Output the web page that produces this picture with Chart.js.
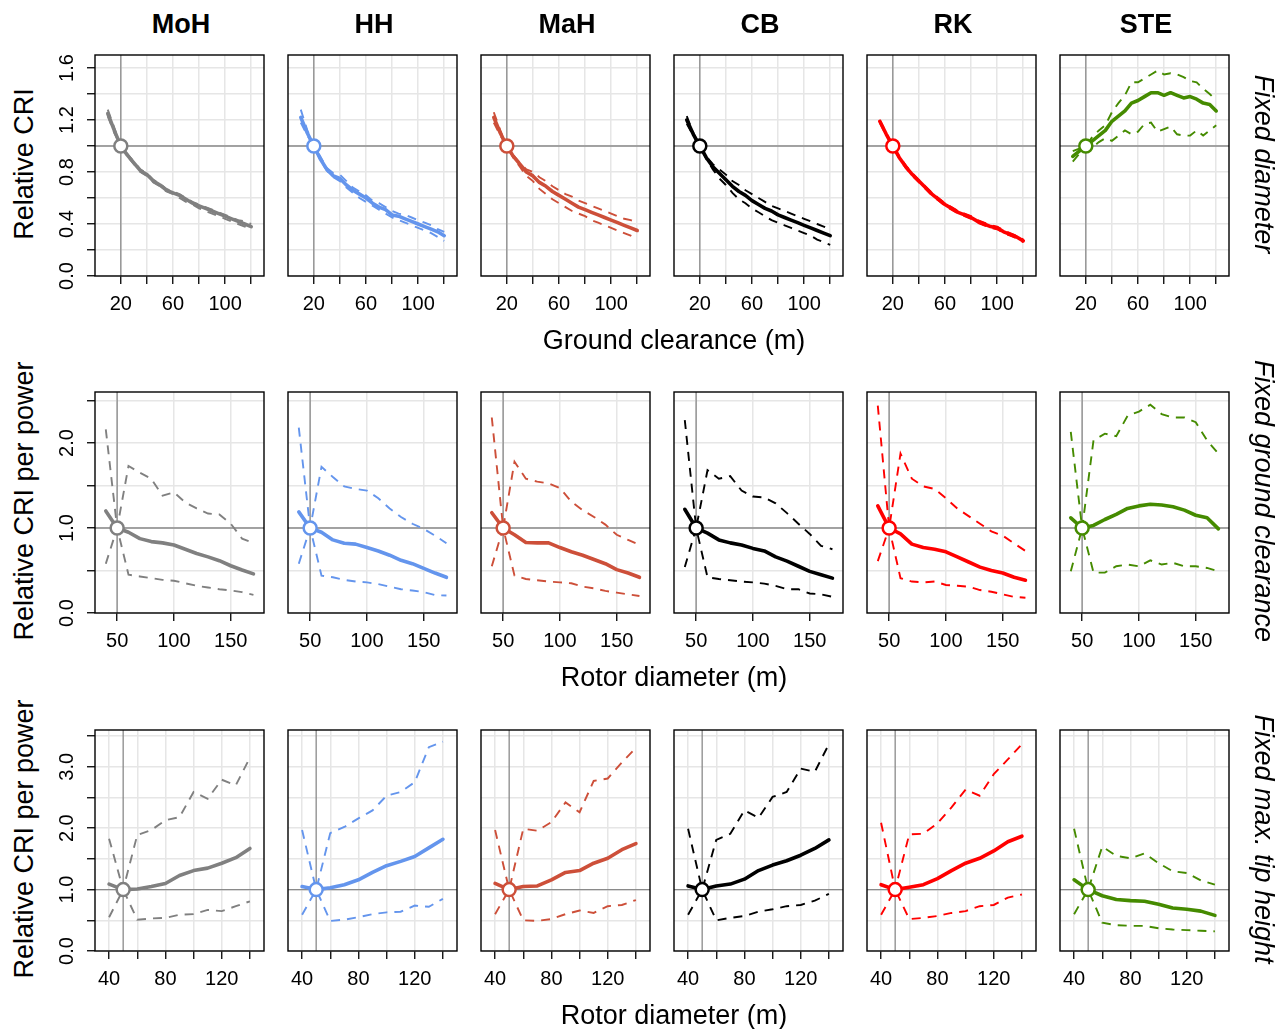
<!DOCTYPE html>
<html>
<head>
<meta charset="utf-8">
<script src="https://cdn.jsdelivr.net/npm/chart.js@4/dist/chart.umd.min.js"></script>
<style>
  body { margin: 0; background: #fff; width: 1284px; height: 1029px; position: relative; overflow: hidden;
         font-family: "Liberation Sans", Arial, sans-serif; }
  canvas { position: absolute; }
  .lbl { position: absolute; white-space: nowrap; color: #000; font-size: 27px; line-height: 1; }
</style>
</head>
<body>
<script>
// ---- categories / labels ----
const models = ['MoH', 'HH', 'MaH', 'CB', 'RK', 'STE'];
const colours = ['#808080', '#6495ed', '#cd4f39', '#000000', '#ff0000', '#458b00'];
const rowTitles = ['Fixed diameter', 'Fixed ground clearance', 'Fixed max. tip height'];
const yTitles = ['Relative CRI', 'Relative CRI per power', 'Relative CRI per power'];
const xTitles = ['Ground clearance (m)', 'Rotor diameter (m)', 'Rotor diameter (m)'];

// ---- x values ----
const clearance = [10, 15, 20, 25, 30, 35, 40, 45, 50, 55, 60, 65, 70, 75, 80, 85, 90, 95, 100, 105, 110, 115, 120];
const diamGround = [40, 50, 60, 70, 80, 90, 100, 110, 120, 130, 140, 150, 160, 170];
const diamTip = [40, 50, 60, 70, 80, 90, 100, 110, 120, 130, 140];

// ---- ticks ----
const xTicks1 = [20, 40, 60, 80, 100, 120], xLabels1 = [20, 60, 100];
const yTicks1 = [0, 0.2, 0.4, 0.6, 0.8, 1.0, 1.2, 1.4, 1.6], yLabels1 = [0, 0.4, 0.8, 1.2, 1.6];
const xTicks2 = [50, 100, 150], xLabels2 = [50, 100, 150];
const yTicks2 = [0, 0.5, 1.0, 1.5, 2.0, 2.5], yLabels2 = [0, 1, 2];
const xTicks3 = [40, 60, 80, 100, 120, 140], xLabels3 = [40, 80, 120];
const yTicks3 = [0, 0.5, 1.0, 1.5, 2.0, 2.5, 3.0, 3.5], yLabels3 = [0, 1, 2, 3];
const refX = [20, 50, 50];

// ---- row 1: fixed diameter (median, upper, lower) ----
const fdMoH   = [1.25,1.12,1.00,0.93,0.87,0.81,0.78,0.73,0.70,0.66,0.64,0.62,0.59,0.56,0.54,0.52,0.50,0.48,0.46,0.44,0.42,0.40,0.38];
const fdMoHUp = [1.28,1.14,1.00,0.94,0.88,0.82,0.79,0.74,0.71,0.67,0.65,0.63,0.60,0.57,0.55,0.53,0.51,0.49,0.47,0.45,0.43,0.42,0.40];
const fdMoHLo = [1.23,1.10,1.00,0.92,0.86,0.80,0.77,0.72,0.69,0.65,0.63,0.60,0.57,0.55,0.52,0.50,0.48,0.46,0.44,0.42,0.40,0.38,0.36];
const fdHH    = [1.22,1.10,1.00,0.90,0.82,0.77,0.75,0.70,0.66,0.63,0.60,0.56,0.53,0.51,0.47,0.46,0.44,0.42,0.40,0.38,0.36,0.34,0.31];
const fdHHUp  = [1.28,1.12,1.00,0.92,0.83,0.79,0.78,0.73,0.68,0.65,0.62,0.58,0.56,0.53,0.50,0.48,0.47,0.45,0.43,0.41,0.39,0.36,0.34];
const fdHHLo  = [1.18,1.08,1.00,0.89,0.81,0.76,0.73,0.68,0.64,0.60,0.57,0.54,0.51,0.48,0.45,0.43,0.41,0.39,0.37,0.35,0.33,0.30,0.27];
const fdMaH   = [1.22,1.10,1.00,0.92,0.86,0.80,0.77,0.72,0.69,0.65,0.62,0.59,0.56,0.53,0.51,0.49,0.47,0.45,0.43,0.41,0.39,0.37,0.35];
const fdMaHUp = [1.26,1.12,1.00,0.93,0.87,0.82,0.80,0.76,0.73,0.69,0.66,0.63,0.61,0.58,0.56,0.54,0.52,0.50,0.48,0.46,0.44,0.43,0.41];
const fdMaHLo = [1.18,1.08,1.00,0.91,0.84,0.77,0.73,0.67,0.63,0.59,0.56,0.53,0.50,0.48,0.46,0.43,0.41,0.39,0.37,0.35,0.33,0.31,0.28];
const fdCB    = [1.20,1.09,1.00,0.91,0.84,0.79,0.74,0.69,0.65,0.62,0.58,0.55,0.52,0.50,0.47,0.45,0.43,0.41,0.39,0.37,0.35,0.33,0.31];
const fdCBUp  = [1.23,1.10,1.00,0.92,0.86,0.82,0.78,0.73,0.70,0.66,0.63,0.60,0.57,0.54,0.52,0.50,0.48,0.46,0.44,0.42,0.40,0.38,0.36];
const fdCBLo  = [1.17,1.08,1.00,0.90,0.82,0.75,0.70,0.64,0.59,0.56,0.52,0.49,0.46,0.43,0.41,0.39,0.37,0.35,0.33,0.31,0.28,0.26,0.24];
const fdRK    = [1.19,1.09,1.00,0.91,0.84,0.78,0.73,0.68,0.63,0.59,0.55,0.52,0.49,0.47,0.45,0.42,0.40,0.38,0.37,0.34,0.32,0.30,0.27];
const fdRKUp  = [1.20,1.10,1.00,0.92,0.85,0.79,0.74,0.69,0.64,0.60,0.56,0.53,0.50,0.48,0.46,0.43,0.41,0.39,0.38,0.35,0.33,0.31,0.28];
const fdRKLo  = [1.18,1.08,1.00,0.90,0.83,0.77,0.72,0.67,0.62,0.58,0.54,0.51,0.48,0.46,0.44,0.41,0.39,0.37,0.36,0.33,0.31,0.29,0.26];
const fdSTE   = [0.92,0.96,1.00,1.04,1.08,1.12,1.19,1.23,1.27,1.33,1.35,1.38,1.41,1.41,1.39,1.41,1.39,1.37,1.38,1.36,1.33,1.32,1.27];
const fdSTEUp = [0.96,0.98,1.00,1.07,1.12,1.16,1.26,1.33,1.39,1.49,1.49,1.52,1.55,1.58,1.55,1.56,1.55,1.53,1.50,1.49,1.44,1.40,1.35];
const fdSTELo = [0.88,0.94,1.00,0.99,1.03,1.06,1.04,1.08,1.12,1.09,1.11,1.17,1.18,1.11,1.13,1.15,1.09,1.08,1.08,1.12,1.08,1.12,1.16];

// ---- row 2: fixed ground clearance ----
const fgMoH   = [1.20,1.00,0.95,0.875,0.84,0.825,0.80,0.75,0.70,0.66,0.615,0.556,0.506,0.46];
const fgMoHUp = [2.16,1.00,1.73,1.65,1.58,1.38,1.42,1.30,1.23,1.17,1.16,1.05,0.875,0.825];
const fgMoHLo = [0.58,1.00,0.45,0.43,0.41,0.39,0.38,0.35,0.32,0.30,0.28,0.265,0.245,0.214];
const fgHH    = [1.19,1.00,0.95,0.86,0.82,0.81,0.77,0.73,0.68,0.62,0.58,0.525,0.47,0.42];
const fgHHUp  = [2.18,1.00,1.72,1.60,1.49,1.46,1.44,1.35,1.23,1.13,1.05,0.99,0.91,0.82];
const fgHHLo  = [0.58,1.00,0.44,0.42,0.39,0.37,0.36,0.34,0.31,0.28,0.265,0.245,0.21,0.206];
const fgMaH   = [1.18,1.00,0.92,0.83,0.825,0.825,0.77,0.72,0.68,0.63,0.58,0.51,0.47,0.42];
const fgMaHUp = [2.30,1.00,1.78,1.58,1.545,1.525,1.47,1.31,1.21,1.13,1.04,0.92,0.86,0.80];
const fgMaHLo = [0.55,1.00,0.44,0.40,0.385,0.37,0.36,0.35,0.31,0.29,0.26,0.24,0.22,0.20];
const fgCB    = [1.22,1.00,0.94,0.86,0.825,0.80,0.76,0.73,0.66,0.61,0.55,0.49,0.45,0.41];
const fgCBUp  = [2.27,1.00,1.68,1.58,1.61,1.44,1.37,1.36,1.29,1.175,1.05,0.93,0.79,0.75];
const fgCBLo  = [0.54,1.00,0.42,0.40,0.385,0.37,0.36,0.345,0.32,0.28,0.28,0.23,0.22,0.19];
const fgRK    = [1.26,1.00,0.93,0.81,0.77,0.75,0.72,0.66,0.60,0.54,0.50,0.47,0.42,0.385];
const fgRKUp  = [2.44,1.00,1.875,1.58,1.49,1.46,1.35,1.23,1.14,1.05,0.96,0.91,0.82,0.73];
const fgRKLo  = [0.61,1.00,0.41,0.37,0.36,0.37,0.33,0.32,0.31,0.27,0.25,0.22,0.19,0.18];
const fgSTE   = [1.12,1.00,1.03,1.10,1.16,1.23,1.26,1.28,1.27,1.25,1.21,1.15,1.12,0.99];
const fgSTEUp = [2.13,1.00,2.03,2.11,2.08,2.32,2.37,2.45,2.34,2.30,2.30,2.245,2.03,1.875];
const fgSTELo = [0.49,1.00,0.475,0.475,0.55,0.57,0.55,0.62,0.57,0.59,0.55,0.55,0.53,0.49];

// ---- row 3: fixed max. tip height ----
const ftMoH   = [1.09,1.00,1.01,1.05,1.10,1.23,1.31,1.35,1.43,1.52,1.67];
const ftMoHUp = [1.83,1.00,1.89,1.97,2.13,2.18,2.59,2.48,2.79,2.70,3.15];
const ftMoHLo = [0.55,1.00,0.51,0.53,0.54,0.59,0.60,0.67,0.65,0.73,0.81];
const ftHH    = [1.05,1.00,1.03,1.08,1.16,1.28,1.39,1.46,1.54,1.68,1.82];
const ftHHUp  = [1.97,1.00,1.92,2.02,2.16,2.29,2.53,2.59,2.75,3.32,3.41];
const ftHHLo  = [0.59,1.00,0.49,0.51,0.55,0.60,0.63,0.64,0.74,0.72,0.85];
const ftMaH   = [1.10,1.00,1.05,1.06,1.16,1.28,1.31,1.43,1.51,1.65,1.75];
const ftMaHUp = [1.97,1.00,1.99,1.96,2.10,2.42,2.26,2.77,2.81,3.07,3.31];
const ftMaHLo = [0.60,1.00,0.50,0.49,0.52,0.60,0.66,0.62,0.73,0.75,0.83];
const ftCB    = [1.06,1.00,1.06,1.09,1.17,1.31,1.40,1.47,1.56,1.67,1.81];
const ftCBUp  = [1.99,1.00,1.81,1.91,2.29,2.17,2.51,2.59,2.97,2.92,3.37];
const ftCBLo  = [0.59,1.00,0.50,0.54,0.57,0.64,0.68,0.73,0.75,0.82,0.93];
const ftRK    = [1.08,1.00,1.04,1.08,1.18,1.31,1.43,1.51,1.63,1.78,1.87];
const ftRKUp  = [2.09,1.00,1.90,1.91,2.08,2.34,2.63,2.53,2.88,3.12,3.37];
const ftRKLo  = [0.59,1.00,0.52,0.54,0.57,0.62,0.65,0.73,0.75,0.87,0.92];
const ftSTE   = [1.16,1.00,0.90,0.84,0.82,0.81,0.76,0.70,0.68,0.65,0.58];
const ftSTEUp = [1.99,1.00,1.70,1.55,1.51,1.59,1.43,1.30,1.27,1.15,1.08];
const ftSTELo = [0.60,1.00,0.46,0.42,0.41,0.41,0.37,0.35,0.34,0.33,0.32];

// grouped per row: [median, upper, lower] for each model
const series = [
  [[fdMoH, fdMoHUp, fdMoHLo], [fdHH, fdHHUp, fdHHLo], [fdMaH, fdMaHUp, fdMaHLo],
   [fdCB, fdCBUp, fdCBLo], [fdRK, fdRKUp, fdRKLo], [fdSTE, fdSTEUp, fdSTELo]],
  [[fgMoH, fgMoHUp, fgMoHLo], [fgHH, fgHHUp, fgHHLo], [fgMaH, fgMaHUp, fgMaHLo],
   [fgCB, fgCBUp, fgCBLo], [fgRK, fgRKUp, fgRKLo], [fgSTE, fgSTEUp, fgSTELo]],
  [[ftMoH, ftMoHUp, ftMoHLo], [ftHH, ftHHUp, ftHHLo], [ftMaH, ftMaHUp, ftMaHLo],
   [ftCB, ftCBUp, ftCBLo], [ftRK, ftRKUp, ftRKLo], [ftSTE, ftSTEUp, ftSTELo]]
];
const xValues = [clearance, diamGround, diamTip];
const xTicks = [xTicks1, xTicks2, xTicks3], xLabels = [xLabels1, xLabels2, xLabels3];
const yTicks = [yTicks1, yTicks2, yTicks3], yLabels = [yLabels1, yLabels2, yLabels3];

// ---- layout (page pixels) ----
const boxLeft = [95, 288, 481, 674, 867, 1060];
const boxTop = [52, 389, 727];
const boxW = 172, boxH = 224;
const padL = 50, padT = 6, padR = 6, padB = 50;
const xRange = [[0.2, 129.8], [30.5, 179.3], [30, 150]];
const yRange = [[0, 1.7], [0, 2.6], [0, 3.6]];

const FONT = '"Liberation Sans", Arial, sans-serif';

// crosshair at the reference design, panel box, rotated y tick labels
const panelFrame = {
  id: 'panelFrame',
  beforeDatasetsDraw(chart, args, opts) {
    const { ctx, chartArea: a, scales: { x, y } } = chart;
    const px = x.getPixelForValue(opts.refX);
    const py = y.getPixelForValue(1);
    ctx.save();
    ctx.strokeStyle = '#8a8a8a';
    ctx.lineWidth = 1.3;
    ctx.beginPath();
    ctx.moveTo(px, a.top); ctx.lineTo(px, a.bottom);
    ctx.moveTo(a.left, py); ctx.lineTo(a.right, py);
    ctx.stroke();
    ctx.restore();
  },
  afterDraw(chart, args, opts) {
    const { ctx, chartArea: a, scales: { y } } = chart;
    ctx.save();
    ctx.strokeStyle = '#000';
    ctx.lineWidth = 1.4;
    ctx.strokeRect(a.left, a.top, a.right - a.left, a.bottom - a.top);
    if (opts.yLabels) {
      ctx.fillStyle = '#000';
      ctx.font = '20px ' + FONT;
      ctx.textAlign = 'center';
      ctx.textBaseline = 'alphabetic';
      opts.yLabels.forEach(v => {
        ctx.save();
        ctx.translate(a.left - 22, y.getPixelForValue(v));
        ctx.rotate(-Math.PI / 2);
        ctx.fillText(v.toFixed(1), 0, 0);
        ctx.restore();
      });
    }
    ctx.restore();
  }
};

function makePanel(r, c) {
  const cv = document.createElement('canvas');
  const w = padL + boxW + padR, h = padT + boxH + padB;
  cv.width = w; cv.height = h;
  cv.style.width = w + 'px'; cv.style.height = h + 'px';
  cv.style.left = (boxLeft[c] - padL) + 'px';
  cv.style.top = (boxTop[r] - padT) + 'px';
  document.body.appendChild(cv);

  const col = colours[c];
  const xs = xValues[r];
  const [mid, up, lo] = series[r][c];
  const pts = arr => xs.map((x, i) => ({ x: x, y: arr[i] }));
  const dashed = arr => ({
    data: pts(arr), borderColor: col, borderWidth: 1.9, borderDash: [9, 7],
    pointRadius: 0, borderCapStyle: 'butt', tension: 0
  });

  new Chart(cv, {
    type: 'line',
    data: {
      datasets: [
        { data: [{ x: refX[r], y: 1 }], showLine: false, pointRadius: 6.5, pointBorderWidth: 2.5,
          pointBackgroundColor: '#fff', pointBorderColor: col },
        { data: pts(mid), borderColor: col, borderWidth: 3.6, pointRadius: 0,
          borderCapStyle: 'round', borderJoinStyle: 'round', tension: 0 },
        dashed(up),
        dashed(lo)
      ]
    },
    options: {
      responsive: false,
      animation: false,
      devicePixelRatio: 1,
      events: [],
      layout: { padding: { top: padT, right: padR, left: 0, bottom: 0 } },
      plugins: {
        legend: { display: false },
        tooltip: { enabled: false },
        panelFrame: { refX: refX[r], yLabels: c === 0 ? yLabels[r] : null }
      },
      scales: {
        x: {
          type: 'linear', min: xRange[r][0], max: xRange[r][1],
          afterBuildTicks: ax => { ax.ticks = xTicks[r].map(v => ({ value: v })); },
          afterFit: ax => { ax.height = padB; },
          border: { display: false },
          grid: { color: '#e6e6e6', lineWidth: 1.5, tickColor: '#000', tickWidth: 1.3, tickLength: 8 },
          ticks: {
            color: '#000', padding: 8, maxRotation: 0, minRotation: 0, autoSkip: false,
            font: { family: FONT, size: 20 },
            callback: v => xLabels[r].includes(v) ? String(v) : ''
          }
        },
        y: {
          type: 'linear', min: yRange[r][0], max: yRange[r][1],
          afterBuildTicks: ax => { ax.ticks = yTicks[r].map(v => ({ value: v })); },
          afterFit: ax => { ax.width = padL; },
          border: { display: false },
          grid: { color: '#e6e6e6', lineWidth: 1.5, tickColor: '#000', tickWidth: 1.3, tickLength: 8,
                  drawTicks: c === 0 },
          ticks: { display: false }
        }
      }
    },
    plugins: [panelFrame]
  });
}

function addLabel(text, x, y, rot, style) {
  const d = document.createElement('div');
  d.className = 'lbl';
  d.textContent = text;
  d.style.left = x + 'px';
  d.style.top = y + 'px';
  d.style.transform = 'translate(-50%, -50%) rotate(' + rot + 'deg)';
  Object.assign(d.style, style || {});
  document.body.appendChild(d);
}

for (let r = 0; r < 3; r++) {
  for (let c = 0; c < 6; c++) makePanel(r, c);
  const midY = boxTop[r] + boxH / 2;
  addLabel(yTitles[r], 23.5, midY, -90);
  addLabel(rowTitles[r], 1263, midY, 90, { fontStyle: 'italic' });
  addLabel(xTitles[r], 674, boxTop[r] + boxH + 64, 0);
}
models.forEach((m, c) => addLabel(m, boxLeft[c] + boxW / 2, 24, 0, { fontWeight: 'bold' }));
</script>
</body>
</html>
